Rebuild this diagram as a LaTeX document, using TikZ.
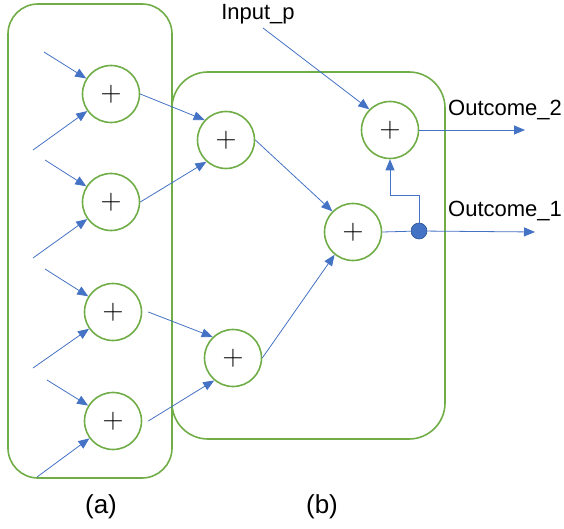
\documentclass[tikz,border=0pt]{standalone}
\usepackage{fontspec}
\setmainfont{Liberation Sans}
\newfontfamily\plusfont{Latin Modern Roman}
\usetikzlibrary{arrows.meta}
\definecolor{grn}{RGB}{112,173,71}
\definecolor{blu}{RGB}{68,114,196}
\definecolor{bluedge}{RGB}{47,85,151}
\begin{document}
\begin{tikzpicture}[x=1pt,y=-1pt,
  group/.style={draw=grn,line width=1.6pt},
  sum/.style={circle,draw=grn,line width=1.6pt,minimum size=57pt,inner sep=0pt,
              font=\plusfont\fontsize{29}{29}\selectfont},
  wire/.style={draw=blu,line width=0.8pt},
  arr/.style={wire,-{Triangle[length=11pt,width=9pt]}},
  lbl/.style={font=\fontsize{22}{22}\selectfont,inner sep=0pt},
  captext/.style={font=\fontsize{26}{26}\selectfont,inner sep=0pt}]
\useasboundingbox (0,0) rectangle (564,529);

% the two groups of adders
\draw[group,rounded corners=30pt] (8,4) rectangle (172,478);
\draw[group,rounded corners=36pt] (172,72) rectangle (445,439);

% first stage
\node[sum] (a1) at (111,94)  {+};
\node[sum] (a2) at (111,202) {+};
\node[sum] (a3) at (113,312) {+};
\node[sum] (a4) at (113,421) {+};

% second stage
\node[sum] (b1) at (226,140) {+};
\node[sum] (b2) at (233,358) {+};
\node[sum] (c1) at (353,232) {+};
\node[sum] (c2) at (390,130) {+};

% branch point
\node[circle,fill=blu,draw=bluedge,line width=0.6pt,minimum size=16pt,inner sep=0pt] (dot) at (419,231) {};

% free input ends
\coordinate (i1) at (44,52);  \coordinate (j1) at (33,150);
\coordinate (i2) at (45,160); \coordinate (j2) at (33,258);
\coordinate (i3) at (45,269); \coordinate (j3) at (33,368);
\coordinate (i4) at (47,380); \coordinate (j4) at (37,477);

\foreach \k in {1,2,3,4}{
  \draw[arr] (i\k) -- (a\k);
  \draw[arr] (j\k) -- (a\k);
}

% first stage into second stage
\draw[arr] (a1.east) -- (b1.137);
\draw[arr] (a2.east) -- (b1.228);
\draw[arr] ([xshift=6pt]a3.east) -- (b2.134);
\draw[arr] ([xshift=6pt]a4.east) -- (b2.230);
\draw[arr] (b1.east) -- (c1.135);
\draw[arr] (b2.east) -- (c1.231);

% external input and outputs
\node[lbl] (inp) at (258,14) {Input\_p};
\coordinate (inpend) at (263,28);
\draw[arr] (inpend) -- (c2.135);

\coordinate (o2) at (525,130);
\coordinate (o1) at (535,232);
\draw[arr] (c2.east) -- (o2);
\draw[wire] (c1.east) -- (dot);
\draw[arr] (dot) -- (o1);
\draw[arr] (dot) -- ++(0,-36) -| (c2);

\node[lbl,anchor=west] (t2) at (448,110) {Outcome\_2};
\node[lbl,anchor=west] (t1) at (448,211) {Outcome\_1};

% captions
\node[captext] (ca) at (101,507) {(a)};
\node[captext] (cb) at (322,507) {(b)};
\end{tikzpicture}
\end{document}
